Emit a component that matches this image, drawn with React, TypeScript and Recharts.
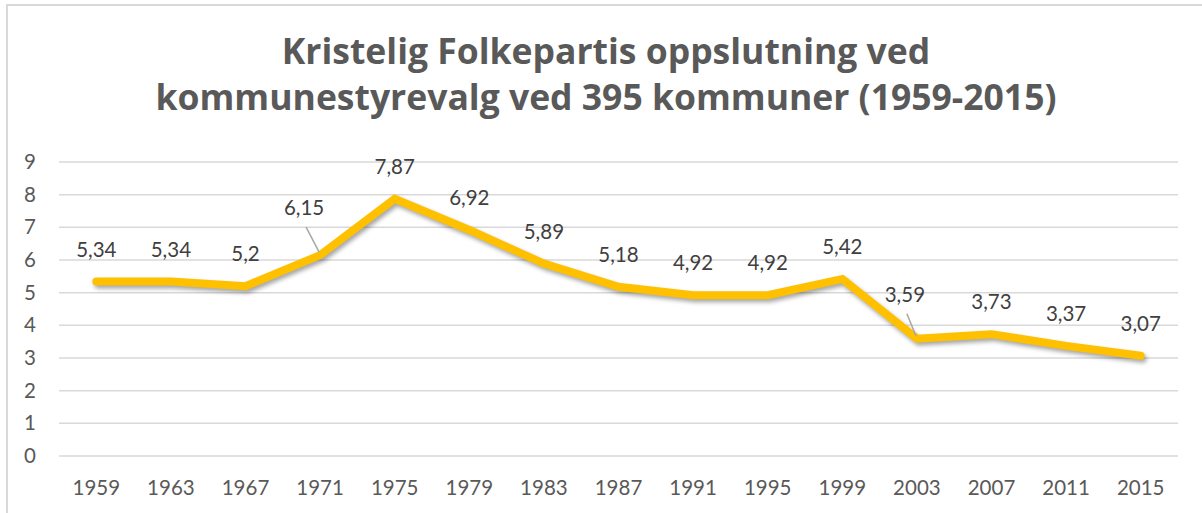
import React from "react";
import { LineChart, Line, XAxis, YAxis, CartesianGrid } from "recharts";

const years = ["1959", "1963", "1967", "1971", "1975", "1979", "1983", "1987", "1991", "1995", "1999", "2003", "2007", "2011", "2015"];
const support = [5.34, 5.34, 5.2, 6.15, 7.87, 6.92, 5.89, 5.18, 4.92, 4.92, 5.42, 3.59, 3.73, 3.37, 3.07];
const yTicks = [0, 1, 2, 3, 4, 5, 6, 7, 8, 9];
const titleLines = ["Kristelig Folkepartis oppslutning ved", "kommunestyrevalg ved 395 kommuner (1959-2015)"];

const data = years.map((y, i) => ({ year: y, value: support[i] }));

const FONT = "Lato, 'Open Sans', sans-serif";
const TITLE_FONT = "'Open Sans', Lato, sans-serif";
const TEXT = "#595959";

// label placement tweaks (style only) for labels drawn with a leader line
const leaderLabels: Record<number, { dx: number; dy: number }> = {
  3: { dx: -16, dy: -47 },
  11: { dx: -12, dy: -44 },
};

const fmt = (v: number) => String(v).replace(".", ",");

const XTick = (props: any) => {
  const { x, payload } = props;
  return (
    <text x={x} y={495} textAnchor="middle" fontFamily={FONT} fontSize={20.5} fill={TEXT}>
      {payload.value}
    </text>
  );
};

const YTick = (props: any) => {
  const { y, payload } = props;
  return (
    <text x={36} y={y + 7} textAnchor="end" fontFamily={FONT} fontSize={20.5} fill={TEXT}>
      {payload.value}
    </text>
  );
};

const renderLabel = (props: any) => {
  const { x, y, value, index } = props;
  const lead = leaderLabels[index];
  if (lead) {
    const cx = x + lead.dx;
    const cy = y + lead.dy;
    return (
      <g key={`lbl-${index}`}>
        <line x1={cx + 2} y1={cy + 19} x2={x - 1} y2={y - 3} stroke="#a6a6a6" strokeWidth={1.5} />
        <text x={cx} y={cy + 7} textAnchor="middle" fontFamily={FONT} fontSize={20.5} fill="#404040">
          {fmt(value)}
        </text>
      </g>
    );
  }
  return (
    <text key={`lbl-${index}`} x={x} y={y - 25} textAnchor="middle" fontFamily={FONT} fontSize={20.5} fill="#404040">
      {fmt(value)}
    </text>
  );
};

export default function App() {
  return (
    <div style={{ position: "absolute", left: 0, top: 0, width: 1202, height: 513, background: "#fff", overflow: "hidden" }}>
      <style>{`.kf-line .recharts-line-curve{filter: drop-shadow(2px 3px 2px rgba(0,0,0,0.35));}`}</style>
      <div style={{ position: "absolute", left: 6, top: 4, width: 1220, height: 540, border: "2px solid #d9d9d9", boxSizing: "border-box" }} />
      <svg width={1202} height={140} style={{ position: "absolute", left: 0, top: 0 }}>
        {titleLines.map((t, i) => (
          <text key={i} x={606} y={64 + i * 46} textAnchor="middle" fontFamily={TITLE_FONT} fontWeight={700} fontSize={35.5} fill={TEXT}>
            {t}
          </text>
        ))}
      </svg>
      <div style={{ position: "absolute", left: 0, top: 0 }}>
        <LineChart width={1202} height={513} data={data} margin={{ top: 162, right: 24, bottom: 0, left: 0 }}>
          <CartesianGrid vertical={false} stroke="#d9d9d9" strokeWidth={1.5} />
          <XAxis
            dataKey="year"
            axisLine={false}
            tickLine={false}
            height={57}
            padding={{ left: 37.3, right: 37.3 }}
            interval={0}
            tick={<XTick />}
          />
          <YAxis
            width={59}
            domain={[0, 9]}
            ticks={yTicks}
            axisLine={false}
            tickLine={false}
            tick={<YTick />}
            interval={0}
          />
          <Line
            className="kf-line"
            type="linear"
            dataKey="value"
            stroke="#FFC000"
            strokeWidth={8}
            strokeLinecap="round"
            strokeLinejoin="miter"
            dot={false}
            activeDot={false}
            isAnimationActive={false}
            label={renderLabel}
          />
        </LineChart>
      </div>
    </div>
  );
}
